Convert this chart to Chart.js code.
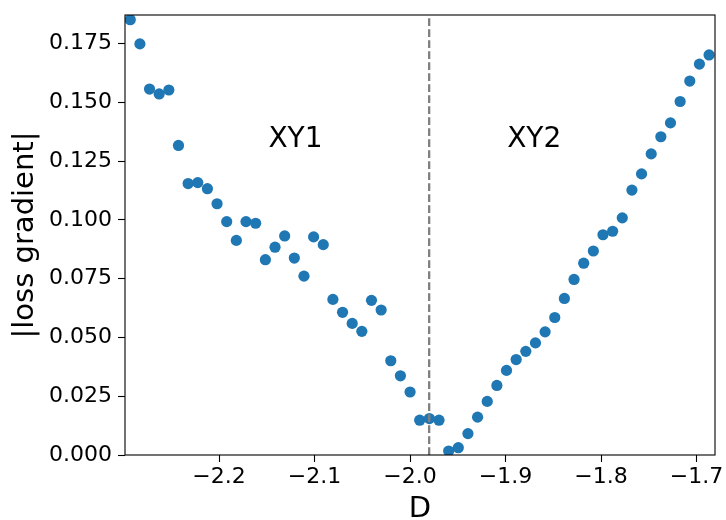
<!DOCTYPE html>
<html>
<head>
<meta charset="utf-8">
<script src="https://cdn.jsdelivr.net/npm/chart.js@4/dist/chart.umd.min.js"></script>
<style>
  html, body { margin: 0; padding: 0; background: #fff; }
  #wrap { width: 726px; height: 520px; }
</style>
</head>
<body>
<div id="wrap"><canvas id="c" width="726" height="520"></canvas></div>
<script>
// Sampled D values
const dValues = [
  -2.293, -2.2829, -2.2728, -2.2627, -2.2526, -2.2425, -2.2324, -2.2223, -2.2122, -2.2021,
  -2.192, -2.1819, -2.1718, -2.1617, -2.1515, -2.1414, -2.1313, -2.1212, -2.1111, -2.101,
  -2.0909, -2.0808, -2.0707, -2.0606, -2.0505, -2.0404, -2.0303, -2.0202, -2.0101, -2.0,
  -1.9899, -1.9798, -1.9697, -1.9596, -1.9495, -1.9394, -1.9293, -1.9192, -1.9091, -1.899,
  -1.8889, -1.8788, -1.8687, -1.8586, -1.8485, -1.8384, -1.8283, -1.8182, -1.8081, -1.798,
  -1.7879, -1.7778, -1.7677, -1.7576, -1.7475, -1.7374, -1.7273, -1.7172, -1.7071, -1.697,
  -1.6869
];

// |loss gradient| at each D
const gradValues = [
  0.1852, 0.1749, 0.1557, 0.1536, 0.1553, 0.1317, 0.1155, 0.1159, 0.1133, 0.1069,
  0.0993, 0.0913, 0.0993, 0.0986, 0.0831, 0.0884, 0.0932, 0.0838, 0.0761, 0.0928,
  0.0895, 0.0662, 0.0607, 0.0560, 0.0526, 0.0658, 0.0617, 0.0401, 0.0337, 0.0268,
  0.0148, 0.0155, 0.0148, 0.0017, 0.0031, 0.0091, 0.0161, 0.0228, 0.0296, 0.0360,
  0.0406, 0.0441, 0.0477, 0.0524, 0.0585, 0.0666, 0.0747, 0.0816, 0.0868, 0.0937,
  0.0952, 0.1009, 0.1127, 0.1196, 0.1281, 0.1354, 0.1413, 0.1504, 0.1591, 0.1663,
  0.1702
];

// Boundary between the two regions
const boundaryD = -1.98;

// Region names and where they sit (data coordinates)
const regionNames = ['XY1', 'XY2'];
const regionNameD = [-2.12, -1.87];
const regionNameGrad = 0.134;

// Axis ticks and limits
const xTicks = [-2.2, -2.1, -2.0, -1.9, -1.8, -1.7];
const yTicks = [0, 0.025, 0.05, 0.075, 0.1, 0.125, 0.15, 0.175];
const xLimits = [-2.2985, -1.6807];
const yLimits = [0, 0.1872];

const FONT = "'DejaVu Sans', sans-serif";
const points = dValues.map((d, i) => ({ x: d, y: gradValues[i] }));
const boundaryLine = [{ x: boundaryD, y: yLimits[0] }, { x: boundaryD, y: yLimits[1] }];

function zeroPadding(scale) {
  scale.paddingLeft = 0; scale.paddingRight = 0;
  scale.paddingTop = 0; scale.paddingBottom = 0;
}

const framePlugin = {
  id: 'frameAndNames',
  afterDatasetsDraw(chart) {
    const ctx = chart.ctx;
    const a = chart.chartArea;
    const xs = chart.scales.x, ys = chart.scales.y;
    ctx.save();
    // region names
    ctx.fillStyle = '#000';
    ctx.font = '28px ' + FONT;
    ctx.textAlign = 'center';
    ctx.textBaseline = 'middle';
    regionNames.forEach((name, i) => {
      ctx.fillText(name, xs.getPixelForValue(regionNameD[i]), ys.getPixelForValue(regionNameGrad));
    });
    // spines on all four sides
    ctx.strokeStyle = '#000';
    ctx.lineWidth = 1.1;
    ctx.strokeRect(a.left, a.top, a.right - a.left, a.bottom - a.top);
    ctx.restore();
  }
};

new Chart(document.getElementById('c'), {
  type: 'scatter',
  data: {
    datasets: [
      {
        type: 'line',
        data: boundaryLine,
        borderColor: '#808080',
        borderWidth: 2.3,
        borderDash: [7.7, 3.3],
        pointRadius: 0,
        fill: false,
        order: 0
      },
      {
        data: points,
        backgroundColor: '#1f77b4',
        borderWidth: 0,
        pointRadius: 5.6,
        pointHoverRadius: 5.6,
        order: 1
      }
    ]
  },
  options: {
    responsive: false,
    animation: false,
    events: [],
    layout: { padding: { top: 15, right: 11, left: 0, bottom: 0 } },
    plugins: { legend: { display: false }, tooltip: { enabled: false } },
    scales: {
      x: {
        type: 'linear',
        min: xLimits[0],
        max: xLimits[1],
        afterBuildTicks: s => { s.ticks = xTicks.map(v => ({ value: v })); },
        afterFit: s => { s.height = 65; zeroPadding(s); },
        border: { display: false },
        grid: { drawOnChartArea: false, drawTicks: true, tickLength: 7, tickWidth: 1.1, tickColor: '#000' },
        ticks: {
          color: '#000',
          font: { family: FONT, size: 22 },
          padding: 2,
          maxRotation: 0,
          callback: v => (v < 0 ? '\u2212' : '') + Math.abs(v).toFixed(1)
        },
        title: {
          display: true,
          text: 'D',
          color: '#000',
          font: { family: FONT, size: 29, lineHeight: 1 },
          padding: { top: 0, bottom: -4 }
        }
      },
      y: {
        type: 'linear',
        min: yLimits[0],
        max: yLimits[1],
        afterBuildTicks: s => { s.ticks = yTicks.map(v => ({ value: v })); },
        afterFit: s => { s.width = 125; zeroPadding(s); },
        border: { display: false },
        grid: { drawOnChartArea: false, drawTicks: true, tickLength: 7, tickWidth: 1.1, tickColor: '#000' },
        ticks: {
          color: '#000',
          font: { family: FONT, size: 22 },
          padding: 6,
          callback: v => v.toFixed(3)
        },
        title: {
          display: true,
          text: '|loss gradient|',
          color: '#000',
          font: { family: FONT, size: 29, lineHeight: 1 },
          padding: { top: 11, bottom: 0 }
        }
      }
    }
  },
  plugins: [framePlugin]
});
</script>
</body>
</html>
